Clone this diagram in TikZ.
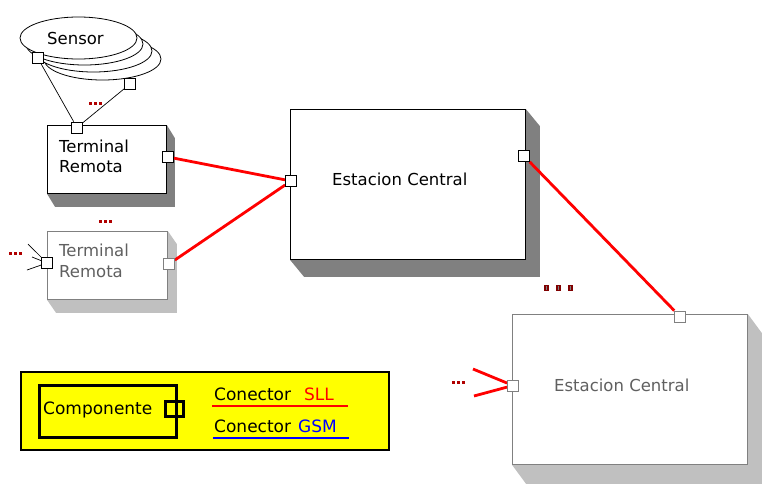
\documentclass[tikz,border=0pt]{standalone}
\usepackage{fontspec}
\setmainfont{DejaVu Sans}
\usetikzlibrary{shapes.geometric}
\definecolor{dred}{HTML}{B00000}
\definecolor{bred}{HTML}{800000}
\definecolor{shdark}{HTML}{808080}
\definecolor{shlight}{HTML}{C0C0C0}
\definecolor{gline}{HTML}{808080}
\definecolor{gtext}{HTML}{606060}
\definecolor{legy}{HTML}{FFFF00}
\newcommand\mydots[2]{%
  \fill[dred] (#1,#2) rectangle ++(3,3);
  \fill[dred] (#1+5,#2) rectangle ++(3,3);
  \fill[dred] (#1+10,#2) rectangle ++(3,3);}
\newcommand\boxshade[4]{%
  \fill[#4] (#1.north east) -- ([shift={(#2,#3)}]#1.north east)
    -- ([shift={(#2,#3)}]#1.south east) -- ([shift={(#2,#3)}]#1.south west)
    -- (#1.south west) -- cycle;}
\begin{document}
\begin{tikzpicture}[x=1pt,y=-1pt,
  font=\fontsize{16.5}{20}\selectfont,
  port/.style={draw, fill=white, minimum size=11pt, inner sep=0pt, line width=0.8pt},
  gport/.style={port, draw=gline},
  comp/.style={draw, fill=white, inner sep=0pt, line width=0.8pt, anchor=north west},
  gcomp/.style={comp, draw=gline},
  sll/.style={red, line width=2.8pt},
  wire/.style={black, line width=0.7pt},
  lbl/.style={anchor=base west, inner sep=0pt},
  leglbl/.style={lbl, font=\fontsize{17}{20}\selectfont},
  sens/.style={ellipse, draw, fill=white, minimum width=117pt, minimum height=42pt, inner sep=0pt, line width=0.8pt}
]
\useasboundingbox (0,0) rectangle (766,488);

% Sensor stack
\node[sens] (s4) at (102.5,59) {};
\node[sens] (s3) at (93.5,51) {};
\node[sens] (s2) at (84.5,44) {};
\node[sens] (s1) at (78.5,38) {};
\node[lbl] (sensortxt) at (47,44) {Sensor};

% Terminal Remota 1
\node[comp, minimum width=119pt, minimum height=68pt] (tr1) at (47,125) {};
\boxshade{tr1}{8}{13}{shdark}
\node[comp, minimum width=119pt, minimum height=68pt] (tr1b) at (47,125) {};
\node[lbl] (tr1t1) at (59,152) {Terminal};
\node[lbl] (tr1t2) at (59,172) {Remota};

% Terminal Remota 2 (gray)
\node[gcomp, minimum width=120pt, minimum height=68pt] (tr2) at (47,231) {};
\boxshade{tr2}{9}{13}{shlight}
\node[gcomp, minimum width=120pt, minimum height=68pt] (tr2b) at (47,231) {};
\node[lbl, text=gtext] (tr2t1) at (59,256) {Terminal};
\node[lbl, text=gtext] (tr2t2) at (59,277) {Remota};

% Estacion Central 1
\node[comp, minimum width=235pt, minimum height=150pt] (ec1) at (290,109) {};
\boxshade{ec1}{14}{17}{shdark}
\node[comp, minimum width=235pt, minimum height=150pt] (ec1b) at (290,109) {};
\node[lbl] (ec1t) at (332,185) {Estacion Central};

% Estacion Central 2 (gray)
\node[gcomp, minimum width=235pt, minimum height=150pt] (ec2) at (512,314) {};
\boxshade{ec2}{14}{19}{shlight}
\node[gcomp, minimum width=235pt, minimum height=150pt] (ec2b) at (512,314) {};
\node[lbl, text=gtext] (ec2t) at (554,391) {Estacion Central};

% Ports
\node[port] (sp1) at (37.5,57.5) {};
\node[port] (sp2) at (130,84) {};
\node[port] (trt) at (77,127.5) {};
\node[port] (tr1r) at (168,157) {};
\node[port] (tr2l) at (47,263) {};
\node[gport] (tr2r) at (169,264) {};
\node[port] (ec1l) at (291,181) {};
\node[port] (ec1r) at (524,156) {};
\node[gport] (ec2t) at (680,316.5) {};
\node[gport] (ec2l) at (513,385.5) {};

% Wires
\draw[wire] (sp1) -- (trt);
\draw[wire] (sp2) -- (trt);
\coordinate (w1) at (28,244);
\coordinate (w2) at (32,257);
\coordinate (w3) at (27,270);
\draw[wire] (w1) -- (tr2l);
\draw[wire] (w2) -- (tr2l);
\draw[wire] (w3) -- (tr2l);

% SLL connectors
\draw[sll] (tr1r) -- (ec1l);
\draw[sll] (tr2r) -- (ec1l);
\draw[sll] (ec1r) -- (ec2t);
\coordinate (e1) at (473,369);
\coordinate (e2) at (474,396);
\draw[sll] (e1) -- (ec2l);
\draw[sll] (e2) -- (ec2l);

% redraw ports on top
\node[port] at (tr1r) {};
\node[gport] at (tr2r) {};
\node[port] at (ec1l) {};
\node[port] at (ec1r) {};
\node[gport] at (ec2t) {};
\node[gport] at (ec2l) {};

% dots
\mydots{89}{101.5}
\mydots{99}{219.5}
\mydots{9}{251.5}
\mydots{452}{380.5}
\foreach \xx in {544,556,568}{
  \fill[bred] (\xx,285) rectangle ++(5,6);
  \fill[gray] (\xx+2,286) rectangle ++(1,4);
}

% Legend
\node[draw, fill=legy, line width=1.6pt, inner sep=0pt, anchor=north west,
  minimum width=368pt, minimum height=78pt] (legend) at (20,371) {};
\node[draw, line width=2.6pt, inner sep=0pt, anchor=north west,
  minimum width=137pt, minimum height=52pt] (lcomp) at (38,384) {};
\node[draw, line width=2.4pt, inner sep=0pt, minimum width=18pt, minimum height=15pt] (lport) at (174.5,409) {};
\node[leglbl] (lct) at (43,414) {Componente};
\node[leglbl] (lc1) at (214,400) {Conector};
\node[leglbl, text=red] (lsll) at (304,400) {SLL};
\node[leglbl] (lc2) at (214,432) {Conector};
\node[leglbl, text=blue] (lgsm) at (298,432) {GSM};
\coordinate (ls1) at (212,406);
\coordinate (ls2) at (348,406);
\coordinate (lg1) at (213,438);
\coordinate (lg2) at (349,438);
\draw[red, line width=2.5pt] (ls1) -- (ls2);
\draw[blue, line width=2.5pt] (lg1) -- (lg2);
\end{tikzpicture}
\end{document}
